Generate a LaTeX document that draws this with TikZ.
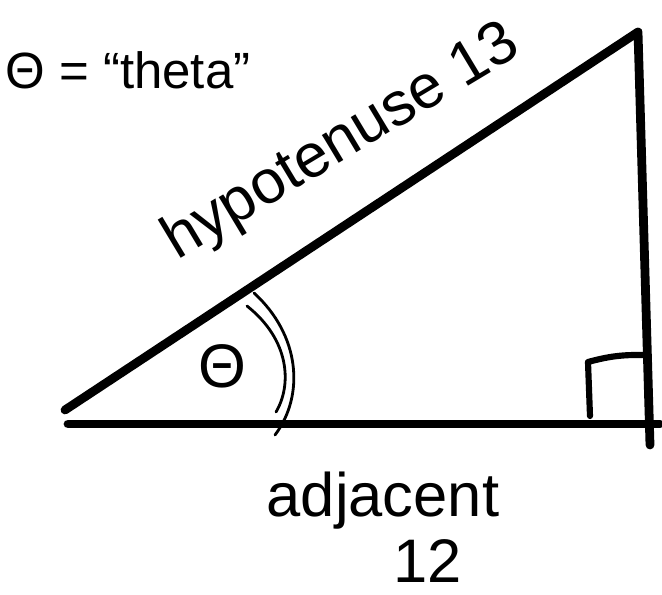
\documentclass[tikz,border=0pt]{standalone}
\usepackage{fontspec}
\setmainfont{Liberation Sans}
\usepackage{tikz}
\usetikzlibrary{positioning}

\tikzset{
  side/.style={line width=5pt, line cap=round, line join=round},
  arcmark/.style={line width=1.6pt, line cap=round},
  hand/.style={font=\fontsize{29}{34}\selectfont, inner sep=0pt},
  bighand/.style={font=\fontsize{35}{40}\selectfont, inner sep=0pt}
}

\begin{document}
\begin{tikzpicture}
    \useasboundingbox (0,0) rectangle (13.24,11.88);
    % corners of the triangle
    \coordinate (left) at (1.30,3.68);
    \coordinate (top) at (12.76,11.24);
    \coordinate (baseL) at (1.36,3.40);
    \coordinate (baseR) at (13.20,3.40);
    \coordinate (foot) at (13.00,2.98);
    \draw[side] (left) -- (top) -- (foot);
    \draw[side] (baseL) -- (baseR);
    % right angle box
    \draw[side, line width=3.5pt] (11.80,3.56) -- (11.76,4.64) to[bend left=8] (12.88,4.78);
    % angle marks
    \draw[arcmark] (4.94,5.76) .. controls (5.80,5.08) and (5.84,4.18) .. (5.52,3.64);
    \draw[arcmark] (5.08,6.02) .. controls (6.00,5.18) and (6.10,3.98) .. (5.50,3.18);
    \node[bighand] (ang) at (4.44,4.56) {Θ};
    % labels
    \node[hand] (theta) at (2.56,10.48) {Θ = “theta”};
    \node[bighand, rotate=31] (hyp) at (6.84,9.02) {hypotenuse 13};
    \node[bighand] (adj) at (7.66,1.86) {adjacent};
    \node[bighand, below=0.18 of adj, xshift=0.9cm] (twelve) {12};
  \end{tikzpicture}
\end{document}
